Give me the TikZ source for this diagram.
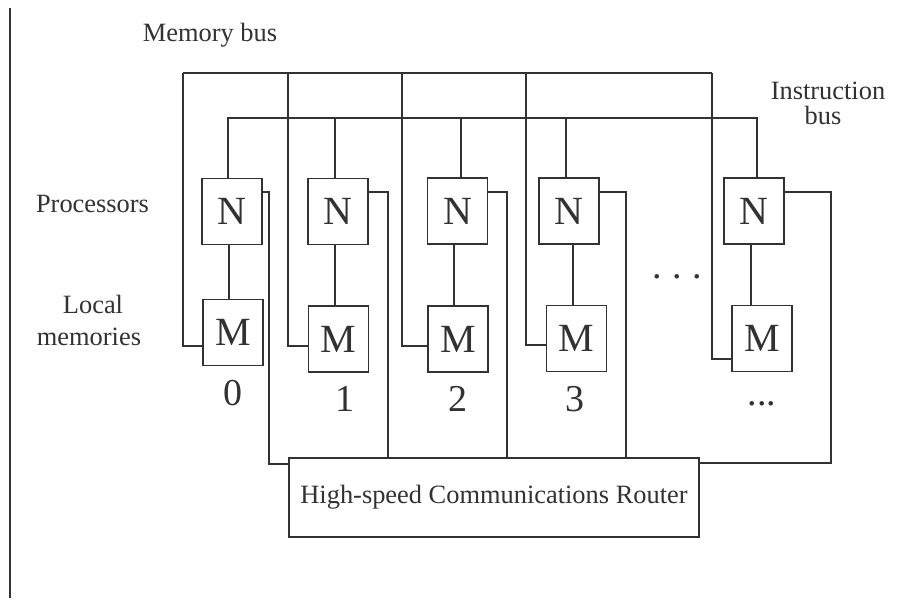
\documentclass[tikz,border=0pt]{standalone}
\usepackage{fontspec}
\setmainfont{Liberation Serif}
\usetikzlibrary{calc}
\definecolor{ink}{RGB}{50,50,50}
\begin{document}
\begin{tikzpicture}[x=1pt,y=-1pt,line width=1.1pt,color=ink,
  unitbox/.style={draw,minimum width=60pt,minimum height=66pt,inner sep=0pt,font=\fontsize{40}{42}\selectfont},
  lbl/.style={inner sep=0pt,anchor=base,font=\fontsize{26.4}{30}\selectfont},
  num/.style={inner sep=0pt,anchor=base,font=\fontsize{38}{40}\selectfont}]
\useasboundingbox (0,0) rectangle (899,600);
\fill[white] (0,0) rectangle (899,600);

% left margin rule
\coordinate (rt) at (10,8);
\coordinate (rb) at (10,598);
\draw (rt) -- (rb);

% processors and memories
\node[unitbox] (N0) at (232,211.5) {N};
\node[unitbox] (M0) at (233,332.5) {M};
\node[unitbox] (N1) at (338,211.5) {N};
\node[unitbox] (M1) at (338.5,339) {M};
\node[unitbox] (N2) at (457.5,211) {N};
\node[unitbox] (M2) at (458,339) {M};
\node[unitbox] (N3) at (569,211) {N};
\node[unitbox] (M3) at (576.5,338.5) {M};
\node[unitbox] (N4) at (754,211) {N};
\node[unitbox] (M4) at (762,338.5) {M};

% router
\node[draw,minimum width=410pt,minimum height=79pt,inner sep=0pt,
  font=\fontsize{26.4}{30}\selectfont] (R) at (494,497.5) {High-speed Communications Router};

% N-M links
\draw (N0.south -| 229,0) -- (M0.north -| 229,0);
\draw (N1.south -| 335,0) -- (M1.north -| 335,0);
\draw (N2.south -| 454,0) -- (M2.north -| 454,0);
\draw (N3.south -| 573,0) -- (M3.north -| 573,0);
\draw (N4.south -| 751,0) -- (M4.north -| 751,0);

% instruction bus
\coordinate (ibL) at (228,118);
\coordinate (ibR) at (757,118);
\draw (N0.north -| ibL) -- (ibL) -- (ibR) -- (N4.north -| ibR);
\draw (N1.north -| 335,0) -- (ibL -| 335,0);
\draw (N2.north -| 461,0) -- (ibL -| 461,0);
\draw (N3.north -| 566,0) -- (ibL -| 566,0);

% memory bus
\coordinate (mbL) at (183,73);
\coordinate (mbR) at (712,73);
\draw (mbL) -- (mbR);
\draw (M0.west |- 0,346) -| (mbL);
\draw (M1.west |- 0,346) -| (mbL -| 288,0);
\draw (M2.west |- 0,346) -| (mbL -| 402,0);
\draw (M3.west |- 0,345) -| (mbL -| 526,0);
\draw (M4.west |- 0,359) -| (mbR);

% router links
\coordinate (c0) at (269,464);
\coordinate (c4) at (831,463);
\draw (N0.east |- 0,192) -| (c0) -- (R.west |- c0);
\draw (N1.east |- 0,192) -| (R.north -| 388,0);
\draw (N2.east |- 0,192) -| (R.north -| 507,0);
\draw (N3.east |- 0,192) -| (R.north -| 626,0);
\draw (N4.east |- 0,192) -| (c4) -- (R.east |- c4);

% labels
\node[lbl] (lmb) at (210,41) {Memory bus};
\node[lbl] (lib1) at (828,99) {Instruction};
\node[lbl] (lib2) at (823,124) {bus};
\node[lbl] (lpr) at (92.5,212) {Processors};
\node[lbl] (llm1) at (93,313) {Local};
\node[lbl] (llm2) at (89,345) {memories};

\node[num] (d0) at (233,405) {0};
\node[num] (d1) at (345,411) {1};
\node[num] (d2) at (458,411) {2};
\node[num] (d3) at (575,411) {3};
\node[num] (d4) at (762,405) {...};
\node[num] (dots) at (677,278) {.\hspace{10.5pt}.\hspace{10.5pt}.};
\end{tikzpicture}
\end{document}
